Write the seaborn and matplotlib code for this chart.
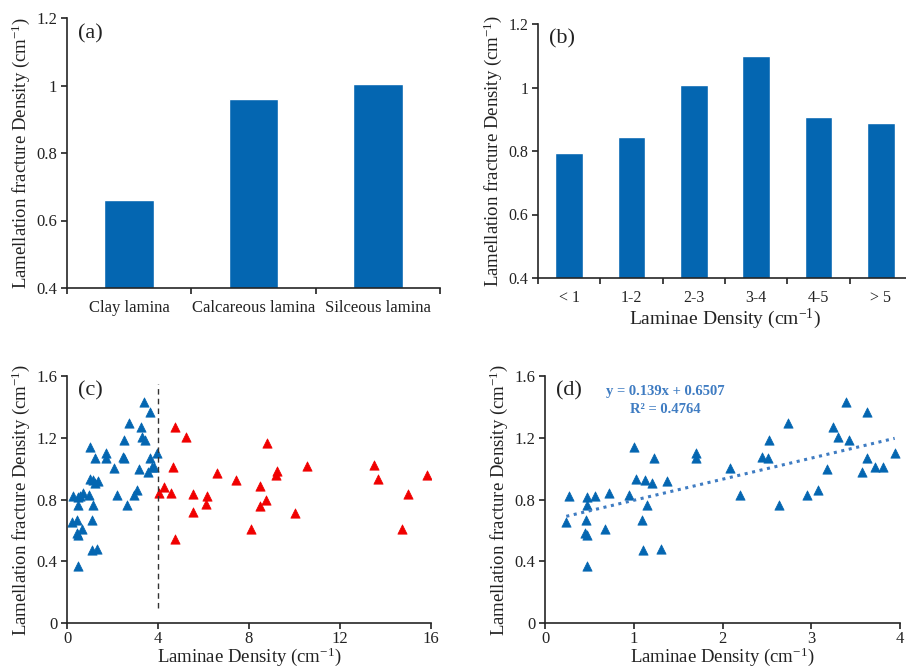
"""Four-panel figure: lamellation fracture density vs lamina type / laminae density."""
import matplotlib
matplotlib.use("Agg")
import matplotlib.pyplot as plt
import pandas as pd
import seaborn as sns

# (a) fracture density per lamina type
lamina_types = ["Clay lamina", "Calcareous lamina", "Silceous lamina"]
lamina_frac = [0.66, 0.96, 1.005]

# (b) fracture density per laminae-density class
density_bins = ["< 1", "1-2", "2-3", "3-4", "4-5", "> 5"]
bin_frac = [0.795, 0.843, 1.007, 1.10, 0.907, 0.888]

# (c)/(d) samples with laminae density < 4 cm-1
low_x = [1.00, 1.23, 1.70, 1.70, 2.08, 1.02, 1.13, 1.21, 1.37, 0.27, 0.47, 0.56,
         0.72, 0.95, 0.47, 1.15, 0.24, 0.46, 1.09, 0.68, 0.45, 0.47, 1.10, 1.31,
         0.47, 3.39, 3.63, 2.74, 3.24, 3.30, 3.42, 2.52, 2.44, 2.51, 3.94, 3.63,
         3.72, 3.81, 3.57, 3.18, 2.20, 3.08, 2.95, 2.64]
low_y = [1.137, 1.07, 1.10, 1.066, 1.003, 0.932, 0.928, 0.91, 0.92, 0.82, 0.815, 0.82,
         0.84, 0.83, 0.765, 0.765, 0.654, 0.664, 0.664, 0.606, 0.585, 0.572, 0.471, 0.482,
         0.371, 1.432, 1.365, 1.297, 1.269, 1.207, 1.183, 1.183, 1.078, 1.066, 1.10, 1.066,
         1.012, 1.012, 0.976, 1.0, 0.83, 0.864, 0.83, 0.765]

# (c) samples with laminae density > 4 cm-1
high_x = [4.73, 5.23, 4.67, 6.61, 7.41, 4.28, 4.03, 4.57, 5.52, 6.14, 6.10, 5.52,
          8.07, 4.76, 8.78, 10.54, 13.49, 13.68, 15.84, 9.24, 9.17, 8.48, 8.73, 8.48,
          10.02, 14.98, 14.74]
high_y = [1.269, 1.204, 1.011, 0.974, 0.929, 0.882, 0.843, 0.845, 0.834, 0.821, 0.774, 0.72,
          0.606, 0.544, 1.166, 1.017, 1.021, 0.935, 0.957, 0.985, 0.957, 0.886, 0.796, 0.757,
          0.71, 0.834, 0.606]

BLUE = "#0466b1"
RED = "#f00000"
FIT = "#3f7cc2"
YLABEL = "Lamellation fracture Density (cm$^{-1}$)"
XLABEL = "Laminae Density (cm$^{-1}$)"

sns.set_style("ticks")
plt.rcParams["font.family"] = ["Liberation Serif", "DejaVu Serif"]
plt.rcParams["mathtext.fontset"] = "custom"
plt.rcParams["mathtext.rm"] = "Liberation Serif"
plt.rcParams["mathtext.it"] = "Liberation Serif:italic"
plt.rcParams["axes.linewidth"] = 1.2
plt.rcParams["xtick.major.width"] = 1.2
plt.rcParams["ytick.major.width"] = 1.2
plt.rcParams["xtick.color"] = "#222222"
plt.rcParams["ytick.color"] = "#222222"
plt.rcParams["text.color"] = "#222222"
plt.rcParams["axes.labelcolor"] = "#222222"

W, H = 906, 671
fig = plt.figure(figsize=(W / 100, H / 100), dpi=100)


def px_axes(x0, y0, x1, y1):
    return fig.add_axes([x0 / W, 1 - y1 / H, (x1 - x0) / W, (y1 - y0) / H])


def style(ax, fs=12):
    sns.despine(ax=ax)
    ax.tick_params(axis="both", labelsize=fs, direction="out", length=4, pad=3)


def bar_panel(ax, cats, vals, letter, xlabel=None, width=0.4, fs=12):
    df = pd.DataFrame({"cat": cats, "val": vals})
    sns.barplot(df, x="cat", y="val", color=BLUE, saturation=1, width=width, ax=ax)
    n = len(cats)
    ax.set_xlim(-0.5, n - 0.5)
    ax.set_ylim(0.4, 1.2)
    ax.set_yticks([0.4, 0.6, 0.8, 1.0, 1.2])
    ax.set_yticklabels(["0.4", "0.6", "0.8", "1", "1.2"])
    # Excel-style: ticks on the category boundaries, labels in between
    ax.set_xticks([i - 0.5 for i in range(n + 1)])
    ax.set_xticklabels([])
    ax.set_xticks(range(n), minor=True)
    ax.set_xticklabels(cats, minor=True)
    ax.tick_params(axis="x", which="minor", length=0, pad=9, labelsize=fs)
    ax.set_xlabel(xlabel if xlabel else "", fontsize=14, labelpad=0)
    ax.set_ylabel(YLABEL, fontsize=13.5, labelpad=3)
    ax.text(0.03, 0.94, letter, transform=ax.transAxes, fontsize=16, va="center")


def scatter_panel(ax, xmax, xticks, letter):
    ax.set_xlim(0, xmax)
    ax.set_ylim(0, 1.6)
    ax.set_xticks(xticks)
    ax.set_yticks([0, 0.4, 0.8, 1.2, 1.6])
    ax.set_yticklabels(["0", "0.4", "0.8", "1.2", "1.6"])
    ax.tick_params(axis="x", pad=2)
    ax.set_xlabel(XLABEL, fontsize=13.5, labelpad=-1)
    ax.set_ylabel(YLABEL, fontsize=13.5, labelpad=3)
    ax.text(0.03, 0.94, letter, transform=ax.transAxes, fontsize=16, va="center")


# (a)
ax_a = px_axes(67, 18, 440, 288)
style(ax_a)
bar_panel(ax_a, lamina_types, lamina_frac, "(a)", width=0.4)

# (b)
ax_b = px_axes(538, 24, 912, 278)
style(ax_b, fs=11.5)
bar_panel(ax_b, density_bins, bin_frac, "(b)", xlabel=XLABEL, width=0.44, fs=11.5)

# (c)
ax_c = px_axes(67, 376, 431, 623)
style(ax_c)
sns.scatterplot(x=low_x, y=low_y, marker="^", s=45, color=BLUE, edgecolor=BLUE,
                linewidth=0.5, ax=ax_c)
sns.scatterplot(x=high_x, y=high_y, marker="^", s=45, color=RED, edgecolor=RED,
                linewidth=0.5, ax=ax_c)
ax_c.plot([4, 4], [0.1, 1.55], color="#333333", linestyle=(0, (4, 3)), linewidth=1)
scatter_panel(ax_c, 16, [0, 4, 8, 12, 16], "(c)")

# (d)
ax_d = px_axes(545, 376, 900, 623)
style(ax_d)
sns.regplot(x=low_x, y=low_y, ci=None, scatter=False, ax=ax_d,
            line_kws={"color": FIT, "linestyle": (0, (1, 1.5)), "linewidth": 2.2})
sns.scatterplot(x=low_x, y=low_y, marker="^", s=45, color=BLUE, edgecolor=BLUE,
                linewidth=0.5, ax=ax_d)
scatter_panel(ax_d, 4, [0, 1, 2, 3, 4], "(d)")
ax_d.text(1.35, 1.50, "y = 0.139x + 0.6507", color=FIT, fontsize=10.5,
          fontweight="bold", ha="center", va="center")
ax_d.text(1.35, 1.38, "R² = 0.4764", color=FIT, fontsize=10.5,
          fontweight="bold", ha="center", va="center")

fig.savefig("out.png", dpi=100)
